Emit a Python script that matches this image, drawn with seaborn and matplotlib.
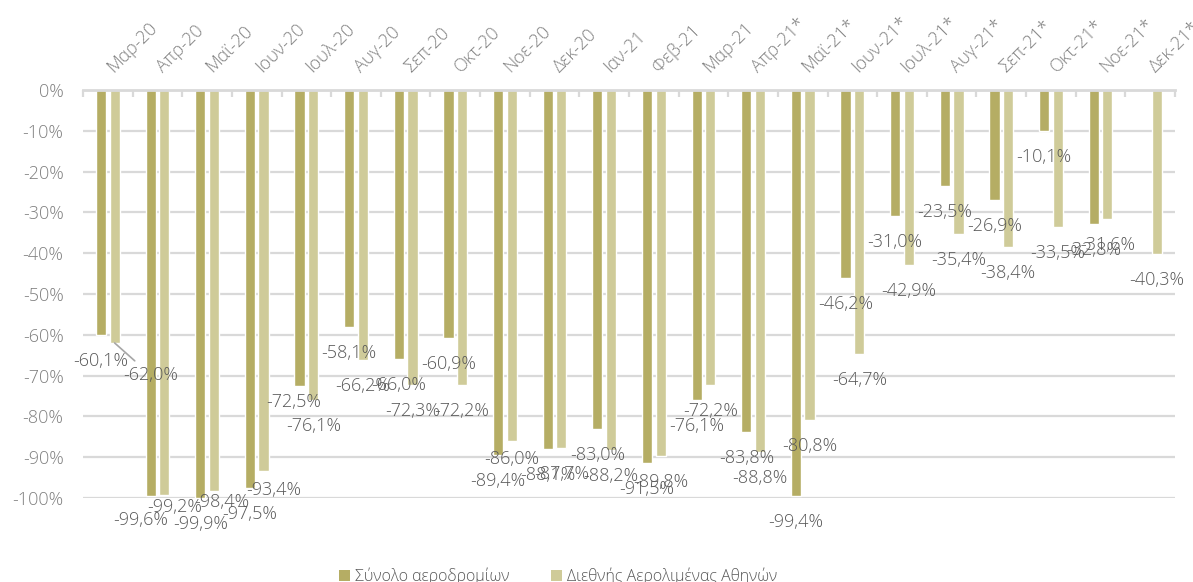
"""
Passenger traffic change vs 2019, Greek airports (monthly bar chart).
"""
import numpy as np
import pandas as pd
import matplotlib.pyplot as plt
from matplotlib.patches import Patch
from matplotlib.ticker import FuncFormatter, FixedLocator
from matplotlib.transforms import ScaledTranslation
import seaborn as sns

# Data (percent change)
months = ["Μαρ-20", "Απρ-20", "Μαϊ-20", "Ιουν-20", "Ιουλ-20", "Αυγ-20", "Σεπ-20",
          "Οκτ-20", "Νοε-20", "Δεκ-20", "Ιαν-21", "Φεβ-21", "Μαρ-21", "Απρ-21*",
          "Μαϊ-21*", "Ιουν-21*", "Ιουλ-21*", "Αυγ-21*", "Σεπ-21*", "Οκτ-21*",
          "Νοε-21*", "Δεκ-21*"]
total_airports = [-60.1, -99.6, -99.9, -97.5, -72.5, -58.1, -66.0, -60.9, -89.4, -88.1,
                  -83.0, -91.5, -76.1, -83.8, -99.4, -46.2, -31.0, -23.5, -26.9, -10.1,
                  -32.8, np.nan]
athens_airport = [-62.0, -99.2, -98.4, -93.4, -76.1, -66.2, -72.3, -72.2, -86.0, -87.7,
                  -88.2, -89.8, -72.2, -88.8, -80.8, -64.7, -42.9, -35.4, -38.4, -33.5,
                  -31.6, -40.3]
series_names = ["Σύνολο αεροδρομίων", "Διεθνής Αερολιμένας Αθηνών"]

DARK = "#b5ad64"
LIGHT = "#cfcb99"
GRID = "#d9d9d9"
AXIS_TEXT = "#808080"
LABEL_TEXT = "#595959"

# label nudges (pixels) for the few labels that were moved by hand
label_nudges = {
    (1, 0): (36, -32),
    (0, 1): (-10, -24),
    (1, 1): (10, -12),
    (1, 2): (8, -11),
    (1, 3): (10, -19),
    (0, 4): (-6, -16),
    (1, 8): (0, -18),
}
leader_lines = {(1, 0)}


def fmt_pct(v):
    return f"{v:.1f}".replace(".", ",") + "%"


def main():
    sns.set_theme(style="white")
    plt.rcParams["font.family"] = ["Open Sans", "DejaVu Sans"]
    plt.rcParams["font.weight"] = "light"

    df = pd.DataFrame({
        "month": months * 2,
        "series": [series_names[0]] * len(months) + [series_names[1]] * len(months),
        "value": total_airports + athens_airport,
    }).dropna()

    fig = plt.figure(figsize=(11.93, 5.82), dpi=100)
    ax = fig.add_axes([83 / 1193, 1 - 498 / 582, 1092 / 1193, 408 / 582])

    sns.barplot(data=df, x="month", y="value", hue="series", order=months,
                hue_order=series_names, palette=[DARK, LIGHT], saturation=1,
                width=0.55, gap=0.25, legend=False, ax=ax)

    ax.set_xlim(-0.5, len(months) - 0.5)
    ax.set_ylim(-100, 0)
    ax.set_xlabel("")
    ax.set_ylabel("")

    # y axis
    ax.set_yticks(np.arange(-100, 1, 10))
    ax.yaxis.set_major_formatter(FuncFormatter(lambda v, _: f"{v:.0f}%"))
    ax.tick_params(axis="y", length=0, pad=14, labelsize=13, labelcolor=AXIS_TEXT)
    ax.yaxis.grid(True, color=GRID, linewidth=1.6)
    ax.xaxis.grid(False)
    ax.set_axisbelow(True)

    # x axis on top, ticks between categories
    ax.xaxis.tick_top()
    ax.xaxis.set_minor_locator(FixedLocator(np.arange(-0.5, len(months), 1)))
    ax.tick_params(axis="x", which="major", length=0, pad=10, labelsize=13,
                   labelcolor=AXIS_TEXT)
    ax.tick_params(axis="x", which="minor", length=5, width=1.6, color=GRID,
                   direction="in", top=True, bottom=False)
    shift = ScaledTranslation(6 / 72, 0, fig.dpi_scale_trans)
    for tick in ax.xaxis.get_major_ticks():
        lbl = tick.label2
        lbl.set_rotation(45)
        lbl.set_ha("left")
        lbl.set_va("bottom")
        lbl.set_rotation_mode("anchor")
        lbl.set_transform(lbl.get_transform() + shift)

    for side in ["left", "right", "bottom"]:
        ax.spines[side].set_visible(False)
    ax.spines["top"].set_color(GRID)
    ax.spines["top"].set_linewidth(2)

    # data labels
    for s, container in enumerate(ax.containers):
        for bar in container:
            xc = bar.get_x() + bar.get_width() / 2
            i = int(round(xc))
            val = bar.get_y() + bar.get_height()
            dx, dy = label_nudges.get((s, i), (0, -26))
            arrow = None
            if (s, i) in leader_lines:
                arrow = dict(arrowstyle="-", color="#a6a6a6", lw=1.2,
                             shrinkA=2, shrinkB=0)
            ax.annotate(fmt_pct(val), xy=(xc, val), xytext=(dx, dy),
                        textcoords="offset pixels", ha="center", va="center",
                        fontsize=13, color=LABEL_TEXT, annotation_clip=False,
                        arrowprops=arrow)

    # legend
    handles = [Patch(facecolor=DARK, edgecolor="none"),
               Patch(facecolor=LIGHT, edgecolor="none")]
    fig.legend(handles, series_names, loc="center",
               bbox_to_anchor=(558 / 1193, 1 - 576 / 582), ncol=2, frameon=False,
               fontsize=11.5, labelcolor=LABEL_TEXT, handlelength=0.7,
               handleheight=0.7, handletextpad=0.3, columnspacing=2.6)

    fig.savefig("out.png", dpi=100)
    plt.close(fig)


if __name__ == "__main__":
    main()
